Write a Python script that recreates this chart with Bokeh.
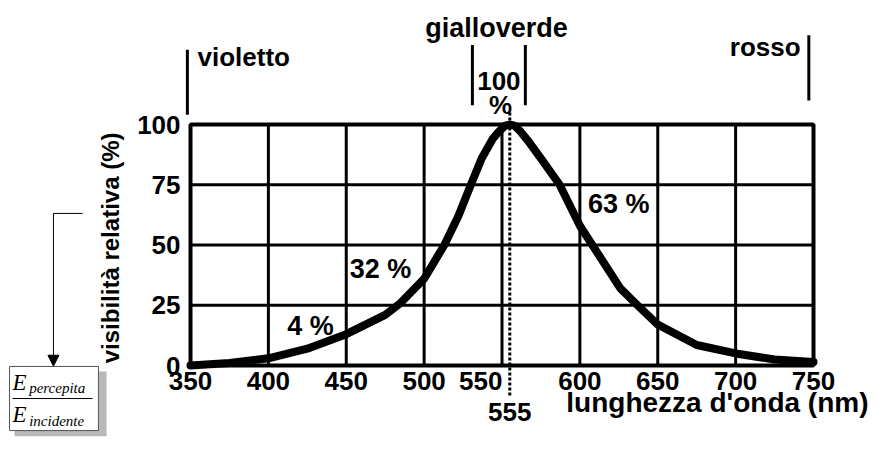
import math
from bokeh.plotting import figure
from bokeh.models import Range1d, Arrow, NormalHead
from bokeh.core.properties import value
from bokeh.embed import file_html
from bokeh.resources import INLINE

# ---- data ----
wavelength = [350, 375, 400, 425, 450, 475, 485, 500, 513, 522, 530, 537, 544, 548, 552, 555,
              558, 562, 567, 576, 587, 600, 615, 626, 637, 650, 675, 700, 725, 750]
visibility = [0, 1, 3, 7, 13, 21, 26, 36, 50, 62, 75, 86, 94, 97, 99.5, 100,
              99.5, 97, 93, 85, 75, 58, 43, 32, 25, 17, 8.5, 5, 2.5, 1.5]
x_ticks = [350, 400, 450, 500, 550, 600, 650, 700, 750]
y_ticks = [0, 25, 50, 75, 100]
peak_wl = 555
point_labels = ["4 %", "32 %", "63 %"]
point_wl = [427, 472, 625]
point_v = [16.2, 40.2, 67.2]
band_labels = ["violetto", "gialloverde", "rosso"]
x_title = "lunghezza d'onda (nm)"
y_title = "visibilità relativa (%)"

# ---- layout (pixels of the canvas) ----
W, H = 870, 437
FL, FR, FT, FB = 190, 813, 124, 365          # plot area of the chart
kx = (x_ticks[-1] - x_ticks[0]) / (FR - FL)
ky = (y_ticks[-1] - y_ticks[0]) / (FB - FT)
x_range = Range1d(x_ticks[0] - FL * kx, x_ticks[0] + (W - FL) * kx)
y_range = Range1d(y_ticks[0] - (H - FB) * ky, y_ticks[0] + FB * ky)

FONT = value("Liberation Sans")
SERIF = value("Liberation Serif")

p = figure(width=W, height=H, output_backend="svg", toolbar_location=None,
           x_range=x_range, y_range=y_range, min_border=0)
p.axis.visible = False
p.grid.visible = False
p.outline_line_color = None
p.background_fill_color = "white"
p.border_fill_color = "white"

x0, x1 = x_ticks[0], x_ticks[-1]
y0, y1 = y_ticks[0], y_ticks[-1]

# grid
p.segment(x0=x_ticks, y0=[y0] * len(x_ticks), x1=x_ticks, y1=[y1] * len(x_ticks),
          line_color="black", line_width=3)
p.segment(x0=[x0] * len(y_ticks), y0=y_ticks, x1=[x1] * len(y_ticks), y1=y_ticks,
          line_color="black", line_width=3)
# frame
p.quad(left=[x0], right=[x1], bottom=[y0], top=[y1], fill_color=None,
       line_color="black", line_width=4)

# tick labels
lab_x = [t for t in x_ticks if t != 550]
p.text(x=lab_x, y=[-6.4] * len(lab_x), text=[str(t) for t in lab_x], text_font=FONT,
       text_font_style="bold", text_font_size="26px", text_align="center",
       text_baseline="alphabetic", text_color="black")
p.text(x=[550.3], y=[-6.4], text=["550"], text_font=FONT, text_font_style="bold",
       text_font_size="26px", text_align="right", text_baseline="alphabetic", text_color="black")
p.text(x=[343.6] * len(y_ticks), y=y_ticks, text=[str(t) for t in y_ticks], text_font=FONT,
       text_font_style="bold", text_font_size="26px", text_align="right",
       text_baseline="middle", text_color="black")

# axis titles
p.text(x=[298.6], y=[48.8], text=[y_title], angle=math.pi / 2, text_font=FONT,
       text_font_style="bold", text_font_size="24px", text_align="center",
       text_baseline="alphabetic", text_color="black")
p.text(x=[785.3], y=[-15.4], text=[x_title], text_font=FONT, text_font_style="bold",
       text_font_size="28px", text_align="right", text_baseline="alphabetic", text_color="black")

# curve
p.line(wavelength, visibility, line_width=8, line_color="black", line_join="round", line_cap="round")

# point labels
p.text(x=point_wl, y=point_v, text=point_labels, text_font=FONT, text_font_style="bold",
       text_font_size="27px", text_align="center", text_baseline="alphabetic", text_color="black")

# dotted line at 555
p.segment(x0=[peak_wl], y0=[105], x1=[peak_wl], y1=[-13], line_color="black",
          line_width=3, line_dash="3 2")
p.text(x=[peak_wl], y=[-19.4], text=[str(peak_wl)], text_font=FONT, text_font_style="bold",
       text_font_size="26px", text_align="center", text_baseline="alphabetic", text_color="black")

# colour bands
p.segment(x0=[348, 531, 565, 747], y0=[104, 108, 108, 110], x1=[348, 531, 565, 747],
          y1=[131, 133, 133, 137], line_color="black", line_width=3)
p.text(x=[354.5], y=[127.9], text=[band_labels[0]], text_font=FONT, text_font_style="bold",
       text_font_size="26px", text_align="left", text_baseline="alphabetic", text_color="black")
p.text(x=[546.5], y=[140.2], text=[band_labels[1]], text_font=FONT, text_font_style="bold",
       text_font_size="27px", text_align="center", text_baseline="alphabetic", text_color="black")
p.text(x=[741.7], y=[132.0], text=[band_labels[2]], text_font=FONT, text_font_style="bold",
       text_font_size="26px", text_align="right", text_baseline="alphabetic", text_color="black")
p.text(x=[548, 549], y=[118.2, 107.9], text=["100", "%"], text_font=FONT, text_font_style="bold",
       text_font_size="26px", text_align="center", text_baseline="alphabetic", text_color="black")

# fraction box with shadow
p.quad(left=[237.0], right=[296.1], top=[-2.5], bottom=[-29.4], fill_color="#b8b8b8",
       line_color=None)
p.quad(left=[233.8], right=[290.9], top=[-0.4], bottom=[-27.0], fill_color="white",
       line_color="#555555", line_width=1)
p.segment(x0=[235.7], y0=[-13.7], x1=[287.1], y1=[-13.7], line_color="black", line_width=1)
p.text(x=[235.7, 235.7], y=[-7.0, -20.3], text=["E", "E"], text_font=SERIF,
       text_font_style="italic", text_font_size="23px", text_align="left",
       text_baseline="alphabetic", text_color="black")
p.text(x=[246.4, 246.4], y=[-9.3, -22.9], text=["percepita", "incidente"], text_font=SERIF,
       text_font_style="italic", text_font_size="15px", text_align="left",
       text_baseline="alphabetic", text_color="black")

# arrow to box
p.segment(x0=[280.7], y0=[63.1], x1=[262.0], y1=[63.1], line_color="black", line_width=1)
p.add_layout(Arrow(x_start=262.0, y_start=63.1, x_end=262.0, y_end=-0.3, line_width=1,
                   line_color="black",
                   end=NormalHead(size=11, fill_color="black", line_color="black")))

open("out.html", "w").write(file_html(p, INLINE))
